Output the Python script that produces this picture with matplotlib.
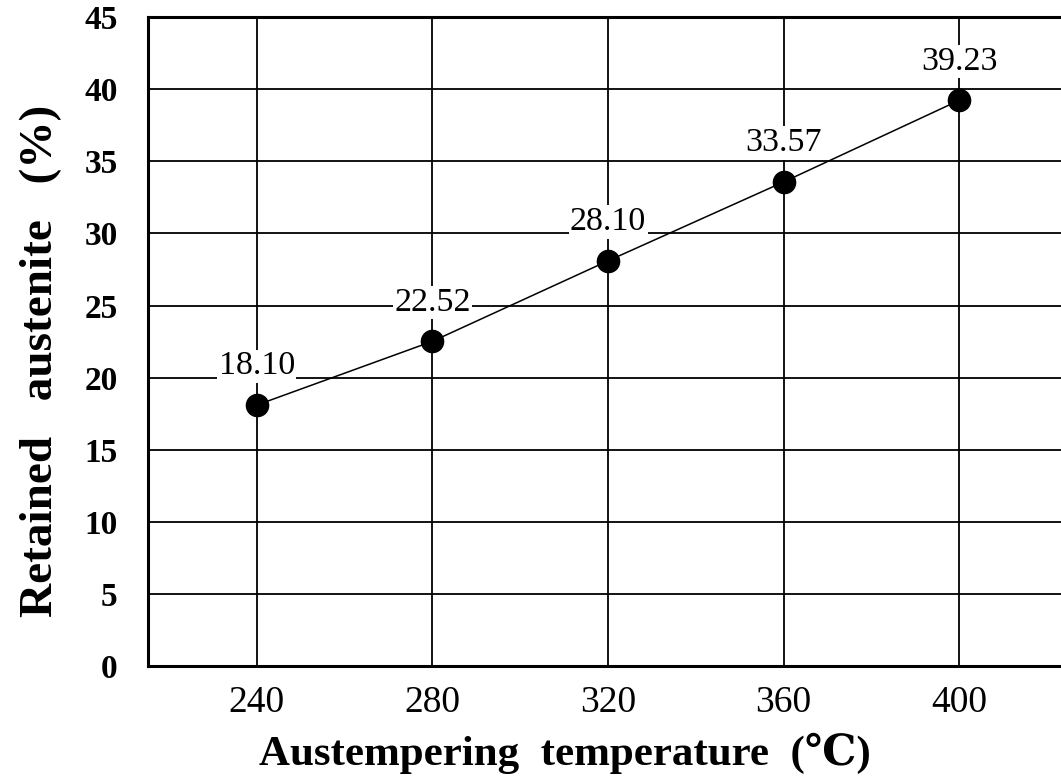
import matplotlib.pyplot as plt

plt.rcParams['font.family'] = ['Liberation Serif', 'DejaVu Serif']

# data
temperature = [240, 280, 320, 360, 400]
retained_austenite = [18.10, 22.52, 28.10, 33.57, 39.23]
point_labels = ["18.10", "22.52", "28.10", "33.57", "39.23"]

x_ticks = [240, 280, 320, 360, 400]
y_ticks = [0, 5, 10, 15, 20, 25, 30, 35, 40, 45]

fig = plt.figure(figsize=(10.61, 7.79), dpi=100)
ax = fig.add_axes([0.1395, 0.145, 0.8605, 0.833])

# grid first so the line and markers sit on top
ax.set_axisbelow(True)
ax.grid(True, color="black", linewidth=1.3)

ax.plot(temperature, retained_austenite, color="black", linewidth=1.1,
        marker="o", markersize=16, markerfacecolor="black", zorder=3)

for x, y, txt in zip(temperature, retained_austenite, point_labels):
    ax.annotate(txt, (x, y), xytext=(0, 28), textcoords="offset points",
                ha="center", va="center", fontsize=24.5,
                bbox=dict(facecolor="white", edgecolor="none", pad=1),
                zorder=4)

ax.set_xlim(215.2, 423.2)
ax.set_ylim(0, 45)
ax.set_xticks(x_ticks)
ax.set_yticks(y_ticks)
ax.tick_params(length=0)
ax.tick_params(axis="x", labelsize=27, pad=14)
ax.tick_params(axis="y", labelsize=24, pad=22)
for lab in ax.get_yticklabels():
    lab.set_fontweight("bold")

for side in ["left", "bottom", "top"]:
    ax.spines[side].set_linewidth(2.2)
ax.spines["right"].set_visible(False)

ax.set_xlabel("Austempering  temperature  (℃)", fontsize=31,
              fontweight="bold")
ax.set_ylabel("Retained   austenite   (%)", fontsize=34,
              fontweight="bold")
# labels sit off-centre in the original
ax.xaxis.set_label_coords(0.457, -0.103)
ax.yaxis.set_label_coords(-0.094, 0.47)

plt.savefig("out.png", dpi=100)
